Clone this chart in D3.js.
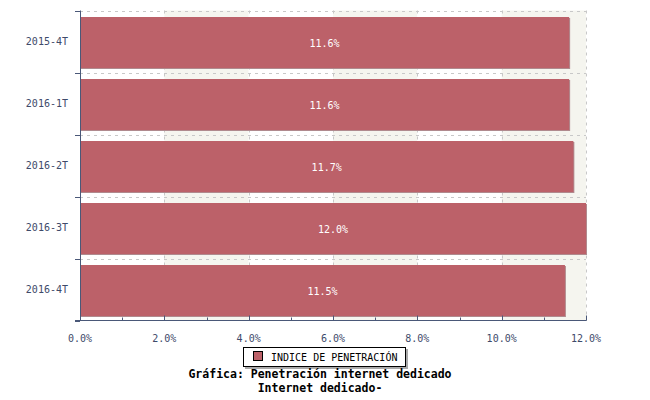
<!DOCTYPE html>
<html><head><meta charset="utf-8">
<script src="https://cdn.jsdelivr.net/npm/d3@7"></script>
<style>body{margin:0;background:#fff}</style>
</head><body>
<svg id="c" width="650" height="400"></svg>
<script>
const categories = ["2015-4T","2016-1T","2016-2T","2016-3T","2016-4T"];
const values = [11.6, 11.6, 11.7, 12.0, 11.5];
const seriesName = "INDICE DE PENETRACIÓN";
const xTicks = [0,2,4,6,8,10,12];
const titleLines = ["Gráfica: Penetración internet dedicado","Internet dedicado-"];

const svg = d3.select("#c");
const M = {l:80, r:586, t:10.5, b:320.5};
const mono = "'DejaVu Sans Mono', monospace";
const axisCol = "#4a5878", textCol = "#3e4a6a", barCol = "#bc6169";

const x = d3.scaleLinear().domain([0,12]).range([M.l, M.r]);
const y = d3.scaleBand().domain(categories).range([M.t, M.b]);

// alternating background stripes
const stripes = d3.range(0,12,2);
svg.selectAll("rect.bg").data(stripes).join("rect")
  .attr("x", d=>x(d)).attr("y", M.t).attr("width", d=>x(d+2)-x(d)).attr("height", M.b-M.t)
  .attr("fill", (d,i)=> i%2 ? "#f5f5ef" : "#ffffff");

// grid
svg.selectAll("line.gx").data(xTicks.slice(1)).join("line")
  .attr("x1", d=>Math.round(x(d))+0.5).attr("x2", d=>Math.round(x(d))+0.5)
  .attr("y1", M.t).attr("y2", M.b)
  .attr("stroke","#c8c8c8").attr("stroke-dasharray","3,4");
svg.selectAll("line.gy").data(categories).join("line")
  .attr("x1", M.l).attr("x2", M.r)
  .attr("y1", d=>Math.round(y(d))+0.5).attr("y2", d=>Math.round(y(d))+0.5)
  .attr("stroke","#c8c8c8").attr("stroke-dasharray","3,4");

// bars
const off = 6.5, bh = 51;
svg.selectAll("rect.sh").data(values).join("rect")
  .attr("x", x(0)+1).attr("y", (d,i)=>y(categories[i])+off+1)
  .attr("width", d=>x(d)-x(0)).attr("height", bh)
  .attr("fill","#b08a8e");
svg.selectAll("rect.bar").data(values).join("rect")
  .attr("x", x(0)).attr("y", (d,i)=>y(categories[i])+off)
  .attr("width", d=>x(d)-x(0)).attr("height", bh)
  .attr("fill", barCol);
svg.selectAll("text.lbl").data(values).join("text")
  .attr("x", d=>(x(0)+x(d))/2).attr("y", (d,i)=>y(categories[i])+off+bh/2+4)
  .attr("text-anchor","middle").attr("fill","#fff")
  .attr("font-family", mono).attr("font-size", 10)
  .text(d=>d.toFixed(1)+"%");

// y axis
const g = svg.append("g").attr("stroke", axisCol).attr("fill","none");
g.append("line").attr("x1", M.l+0.5).attr("x2", M.l+0.5).attr("y1", M.t).attr("y2", M.b);
const yb = categories.map(c=>y(c)).concat([M.b]);
g.selectAll("line.yt").data(yb).join("line")
  .attr("x1", M.l-5).attr("x2", M.l).attr("y1", d=>Math.round(d)+0.5).attr("y2", d=>Math.round(d)+0.5);
svg.selectAll("text.yl").data(categories).join("text")
  .attr("x", 68).attr("y", d=>y(d)+y.bandwidth()/2+3.5)
  .attr("text-anchor","end").attr("fill", textCol)
  .attr("font-family", mono).attr("font-size", 10).text(d=>d);

// x axis
g.append("line").attr("x1", M.l-5).attr("x2", M.r+0.5).attr("y1", M.b).attr("y2", M.b);
const minor = d3.range(1,12,2);
g.selectAll("line.xm").data(minor).join("line")
  .attr("x1", d=>Math.round(x(d))+0.5).attr("x2", d=>Math.round(x(d))+0.5)
  .attr("y1", M.b-3).attr("y2", M.b);
g.selectAll("line.xM").data(xTicks).join("line")
  .attr("x1", d=>Math.round(x(d))+0.5).attr("x2", d=>Math.round(x(d))+0.5)
  .attr("y1", M.b-5).attr("y2", M.b);
svg.selectAll("text.xl").data(xTicks).join("text")
  .attr("x", d=>x(d)).attr("y", 342)
  .attr("text-anchor","middle").attr("fill", textCol)
  .attr("font-family", mono).attr("font-size", 10)
  .text(d=>d.toFixed(1)+"%");

// legend
const lg = svg.append("g");
lg.append("rect").attr("x",245).attr("y",349).attr("width",163).attr("height",20).attr("fill","#aaa");
lg.append("rect").attr("x",243.5).attr("y",347.5).attr("width",162).attr("height",19).attr("fill","#fff").attr("stroke","#000");
lg.append("rect").attr("x",253.5).attr("y",351.5).attr("width",9).attr("height",9).attr("fill",barCol).attr("stroke","#000");
lg.append("text").attr("x",271).attr("y",360.5).attr("font-family",mono).attr("font-size",10).attr("fill","#000").text(seriesName);

// title
svg.selectAll("text.tt").data(titleLines).join("text")
  .attr("x", 320).attr("y", (d,i)=>378+i*14)
  .attr("text-anchor","middle").attr("font-family",mono).attr("font-weight","bold")
  .attr("font-size",11.5).attr("fill","#000").text(d=>d);
</script>
</body></html>
